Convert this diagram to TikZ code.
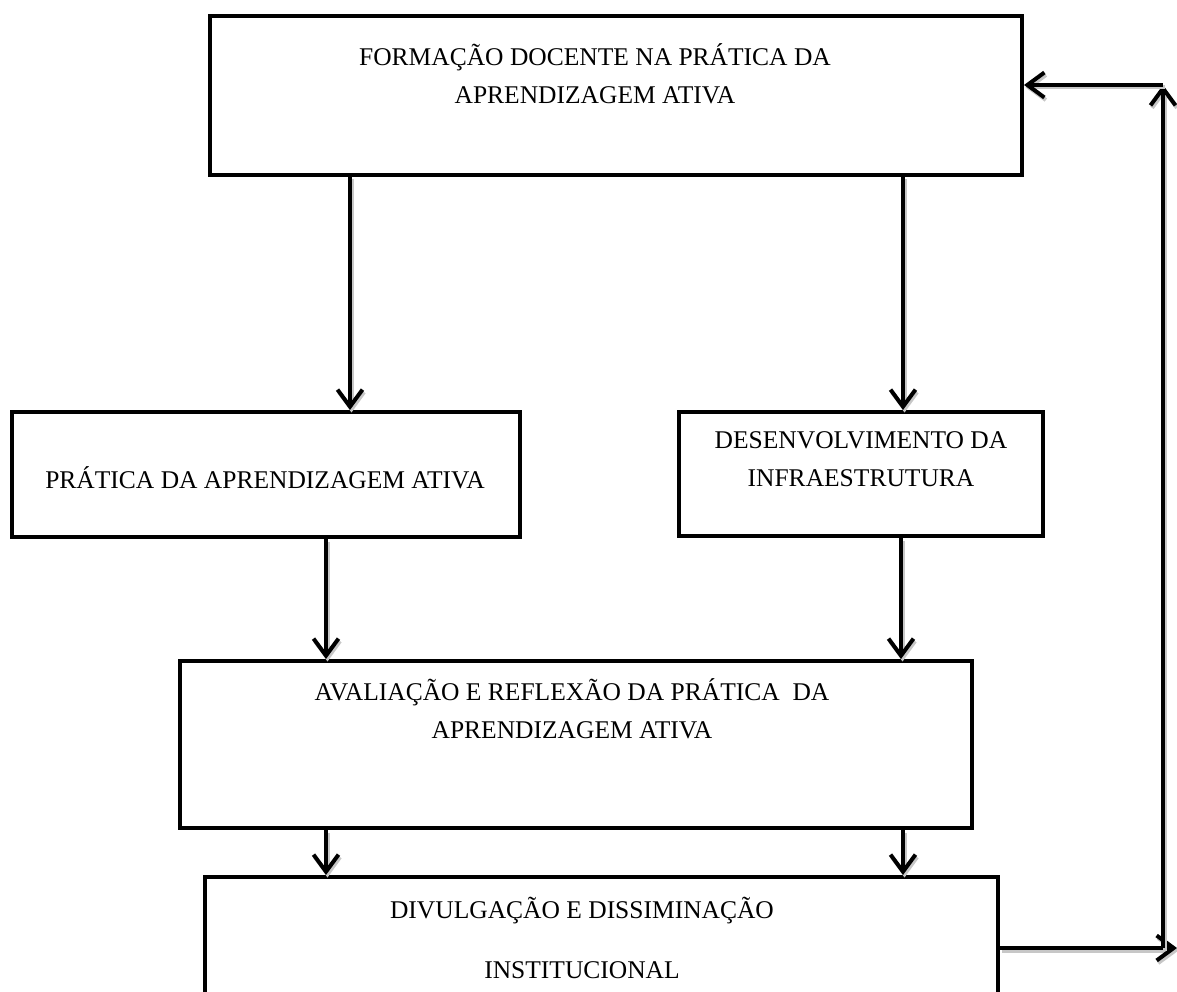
\documentclass[tikz,border=0pt]{standalone}
\usepackage{fontspec}
\setmainfont{Liberation Serif}
\usetikzlibrary{arrows.meta}
\begin{document}
\begin{tikzpicture}[x=1pt,y=-1pt,
  box/.style={draw, line width=4pt, rectangle, inner sep=0pt},
  lbl/.style={font=\fontsize{25.5}{38}\selectfont, align=center, inner sep=0pt},
  conn/.style={line width=4pt, -{Straight Barb[length=17pt,width=25pt]},
    preaction={draw=black!22, line width=4pt, transform canvas={shift={(1.5pt,-2.5pt)}}}}
]
\useasboundingbox (0,0) rectangle (1177,992);
\clip (0,0) rectangle (1177,992);

% boxes
\node[box, minimum width=812pt, minimum height=159pt] (b1) at (616,95.5) {};
\node[box, minimum width=508pt, minimum height=125pt] (b2) at (266,474.5) {};
\node[box, minimum width=364pt, minimum height=124pt] (b3) at (861,474) {};
\node[box, minimum width=792pt, minimum height=167pt] (b4) at (576,744.5) {};
\node[box, minimum width=793pt, minimum height=160pt] (b5) at (601.5,957) {};

% labels
\node[lbl] (t1) at (595,74) {FORMAÇÃO DOCENTE NA PRÁTICA DA\\APRENDIZAGEM ATIVA};
\node[lbl] (t2) at (265,478) {PRÁTICA DA APRENDIZAGEM ATIVA};
\node[lbl] (t3) at (861,459) {DESENVOLVIMENTO DA\\INFRAESTRUTURA};
\node[lbl] (t4) at (572,709) {AVALIAÇÃO E REFLEXÃO DA PRÁTICA\ \ DA\\APRENDIZAGEM ATIVA};
\node[lbl] (t5) at (582,938) {DIVULGAÇÃO E DISSIMINAÇÃO\\[22pt]INSTITUCIONAL};

% connector x positions
\coordinate (xa) at (350,0);
\coordinate (xb) at (903,0);
\coordinate (xc) at (326,0);
\coordinate (xd) at (901,0);
\coordinate (xe) at (326,0);
\coordinate (xf) at (903,0);

\draw[conn] (b1.south -| xa) -- (b2.north -| xa);
\draw[conn] (b1.south -| xb) -- (b3.north -| xb);
\draw[conn] (b2.south -| xc) -- (b4.north -| xc);
\draw[conn] (b3.south -| xd) -- (b4.north -| xd);
\draw[conn] (b4.south -| xe) -- (b5.north -| xe);
\draw[conn] (b4.south -| xf) -- (b5.north -| xf);

% feedback loop
\coordinate (fbend) at (1177,948);
\coordinate (fbbot) at (1163,948);
\coordinate (fbtop) at (1163,85);
\draw[conn] (b5.east |- fbend) -- (fbend);
\draw[conn] (fbbot) -- (fbtop);
\draw[conn] (fbtop) -- (b1.east |- fbtop);
\end{tikzpicture}
\end{document}
